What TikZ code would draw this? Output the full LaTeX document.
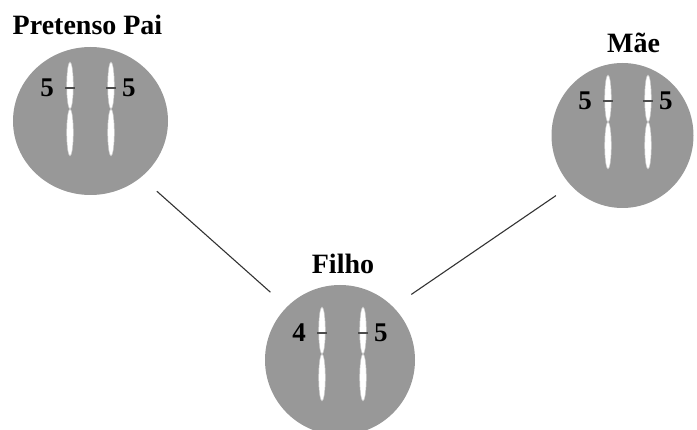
\documentclass[tikz,border=0pt]{standalone}
\usepackage{fontspec}
\setmainfont{Liberation Serif}
\usetikzlibrary{positioning,shapes.geometric}
\definecolor{cellgray}{RGB}{152,152,152}
\tikzset{
  cell/.style={ellipse,fill=cellgray,inner sep=0pt},
  arm/.style={fill=white,draw=gray!45,line width=0.5pt},
  band/.style={draw=black!70,line width=1.1pt},
  title/.style={font=\fontsize{28}{32}\selectfont\bfseries,inner sep=0pt},
  num/.style={font=\fontsize{27}{30}\selectfont\bfseries,inner sep=0pt},
  link/.style={draw=black!80,line width=1.1pt},
  % one chromosome, hung from its top end
  chromo/.pic={
    \path[arm] (0,23.5) ellipse (3.3pt and 23.5pt);
    \path[arm] (0,70.5) ellipse (3.3pt and 23.5pt);
    \path[band] (-5,26) -- (5,26);
    \coordinate (-band) at (0,26);
  }
}

\begin{document}
\begin{tikzpicture}[x=1pt,y=-1pt]
  \useasboundingbox (0,0) rectangle (697,430);
  \clip (0,0) rectangle (697,430);

  % cells
  \node[cell,minimum width=155pt,minimum height=148pt] (pai) at (90.5,121) {};
  \node[cell,minimum width=142pt,minimum height=145pt] (mae) at (622.5,135.5) {};
  \node[cell,minimum width=150pt,minimum height=150pt] (filho) at (340,360) {};

  \node[title,anchor=south,above=12pt of pai,xshift=-3pt] {Pretenso Pai};
  \node[title,anchor=south,above=10pt of mae,xshift=11pt] {Mãe};
  \node[title,anchor=south,above=11pt of filho,xshift=3pt] {Filho};

  % chromosome pairs
  \pic (pl) at (70,62) {chromo};
  \pic (pr) at (111,62) {chromo};
  \pic (ml) at (608,75) {chromo};
  \pic (mr) at (648,75) {chromo};
  \pic (fl) at (322,307) {chromo};
  \pic (fr) at (363,307) {chromo};

  \node[num,left=16pt of pl-band] {5};
  \node[num,right=11pt of pr-band] {5};
  \node[num,left=16pt of ml-band] {5};
  \node[num,right=11pt of mr-band] {5};
  \node[num,left=16pt of fl-band] {4};
  \node[num,right=11pt of fr-band] {5};

  \draw[link,shorten <=21pt,shorten >=22pt] (pai.-48) -- (filho.135);
  \draw[link,shorten <=18pt,shorten >=22pt] (mae.224) -- (filho.45);
\end{tikzpicture}
\end{document}
